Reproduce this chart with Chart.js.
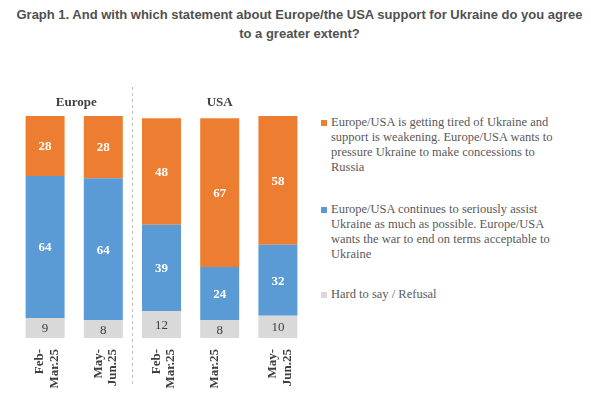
<!DOCTYPE html>
<html>
<head>
<meta charset="utf-8">
<script src="https://cdn.jsdelivr.net/npm/chart.js@4"></script>
<style>
  body { margin: 0; background: #fff; }
  #page { position: relative; width: 591px; height: 399px; overflow: hidden; }
  #title {
    position: absolute; left: 4px; top: 5px; width: 591px; text-align: center;
    font: bold 13px "Liberation Sans", Arial, sans-serif; line-height: 19px; color: #505050;
  }
  #chartBox { position: absolute; left: 0; top: 80px; width: 310px; height: 319px; }
  .leg {
    position: absolute; left: 331px; font: 12.5px "Liberation Serif", "Times New Roman", serif;
    line-height: 15px; color: #595959;
  }
  .leg i { position: absolute; left: -10px; top: 5px; width: 6px; height: 6px; }
</style>
</head>
<body>
<div id="page">
  <div id="title">Graph 1. And with which statement about Europe/the USA support for Ukraine do you agree<br>to a greater extent?</div>
  <div id="chartBox"><canvas id="chart"></canvas></div>
  <div id="legend"></div>
</div>
<script>
'use strict';

// categories (multi-line tick labels)
let periods = [['Feb-', 'Mar.25'], ['May-', 'Jun.25'], ['Feb-', 'Mar.25'], 'Mar.25', ['May-', 'Jun.25']];
let groups = ['Europe', 'USA'];

// series values
let tiredValues = [28, 28, 48, 67, 58];
let assistValues = [64, 64, 39, 24, 32];
let hardValues = [9, 8, 12, 8, 10];

let seriesNames = [
  ['Europe/USA is getting tired of Ukraine and', 'support is weakening. Europe/USA wants to', 'pressure Ukraine to make concessions to', 'Russia'],
  ['Europe/USA continues to seriously assist', 'Ukraine as much as possible. Europe/USA', 'wants the war to end on terms acceptable to', 'Ukraine'],
  ['Hard to say / Refusal']
];
let seriesColors = ['#ED7D31', '#5B9BD5', '#D9D9D9'];

// legend built as html text
let legendTops = [115, 202, 287];
let legendElem = document.getElementById('legend');
for (let i = 0; i < seriesNames.length; i++) {
  let div = document.createElement('div');
  div.className = 'leg';
  div.style.top = legendTops[i] + 'px';
  div.innerHTML = '<i style="background:' + seriesColors[i] + '"></i>' + seriesNames[i].join('<br>');
  legendElem.appendChild(div);
}

// value labels inside the bars
const valueLabels = {
  id: 'valueLabels',
  afterDatasetsDraw(chart) {
    const ctx = chart.ctx;
    ctx.save();
    ctx.textAlign = 'center';
    ctx.textBaseline = 'middle';
    chart.data.datasets.forEach((ds, di) => {
      const meta = chart.getDatasetMeta(di);
      meta.data.forEach((bar, i) => {
        const p = bar.getProps(['x', 'y', 'base'], true);
        const top = Math.max(p.y, chart.chartArea.top);
        if (di === 0) {
          ctx.fillStyle = '#404040';
          ctx.font = '13px "Liberation Serif"';
        } else {
          ctx.fillStyle = '#ffffff';
          ctx.font = 'bold 13px "Liberation Serif"';
        }
        ctx.fillText(ds.data[i], p.x, (top + p.base) / 2 + 1);
      });
    });
    ctx.restore();
  }
};

// group headers and dashed divider
const groupMarks = {
  id: 'groupMarks',
  afterDraw(chart) {
    const ctx = chart.ctx;
    const x = chart.scales.x;
    ctx.save();
    const divX = Math.round((x.getPixelForValue(1) + x.getPixelForValue(2)) / 2) + 0.5;
    ctx.strokeStyle = '#BFBFBF';
    ctx.lineWidth = 1;
    ctx.setLineDash([3, 3]);
    ctx.beginPath();
    ctx.moveTo(divX, 7);
    ctx.lineTo(divX, 307);
    ctx.stroke();
    ctx.fillStyle = '#404040';
    ctx.font = 'bold 13px "Liberation Serif"';
    ctx.textAlign = 'center';
    ctx.textBaseline = 'middle';
    ctx.fillText(groups[0], (x.getPixelForValue(0) + x.getPixelForValue(1)) / 2 + 2, 23);
    ctx.fillText(groups[1], x.getPixelForValue(3), 23);
    ctx.restore();
  }
};

let config = {
  type: 'bar',
  data: {
    labels: periods,
    datasets: [
      { label: 'Hard to say / Refusal', data: hardValues, backgroundColor: seriesColors[2] },
      { label: 'Assist', data: assistValues, backgroundColor: seriesColors[1] },
      { label: 'Tired', data: tiredValues, backgroundColor: seriesColors[0] }
    ]
  },
  options: {
    responsive: true,
    maintainAspectRatio: false,
    animation: false,
    datasets: {
      bar: { barPercentage: 0.67, categoryPercentage: 1 }
    },
    layout: { padding: { top: 36, left: 16, right: 3, bottom: 0 } },
    plugins: {
      legend: { display: false },
      tooltip: { enabled: false }
    },
    scales: {
      x: {
        stacked: true,
        grid: { display: false },
        border: { display: false },
        ticks: {
          minRotation: 90,
          maxRotation: 90,
          padding: 3,
          labelOffset: -5,
          color: '#404040',
          font: { family: 'Liberation Serif', size: 13, weight: 'bold', lineHeight: 1.1 }
        },
        afterFit(scale) { scale.height = 61; }
      },
      y: {
        stacked: true,
        display: false,
        min: 0,
        max: 100
      }
    }
  },
  plugins: [valueLabels, groupMarks]
};

// eslint-disable-next-line no-undef
new Chart(document.getElementById('chart'), config);
</script>
</body>
</html>
